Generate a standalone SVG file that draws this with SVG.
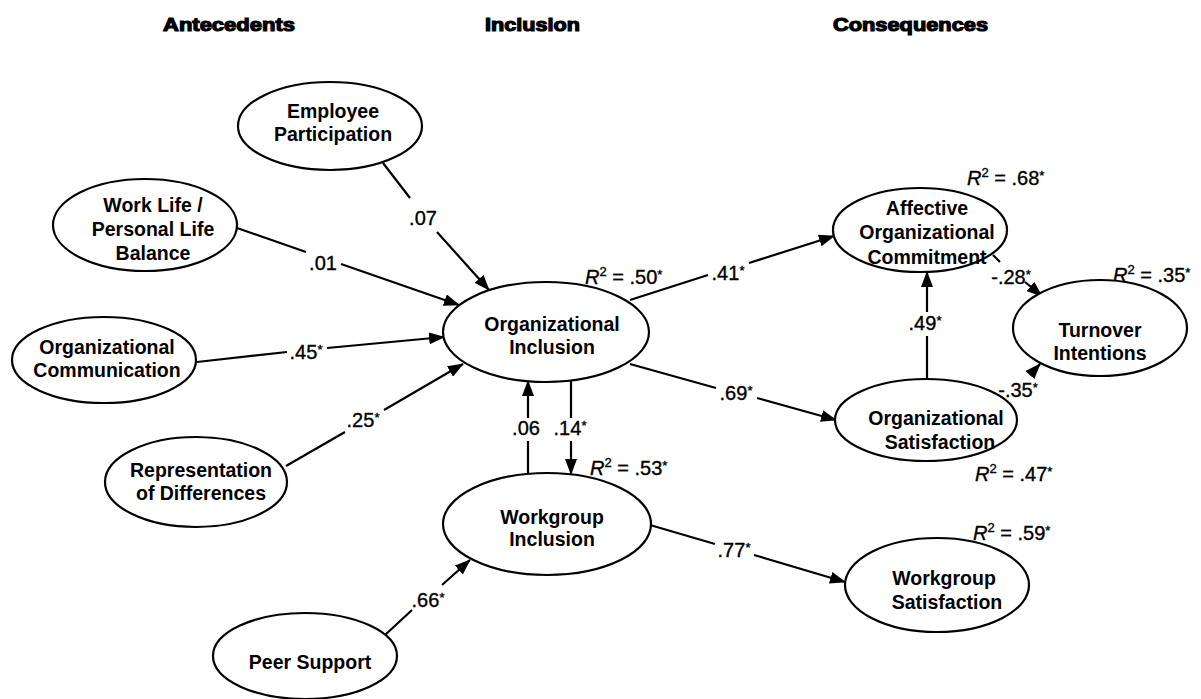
<svg xmlns="http://www.w3.org/2000/svg" width="1201" height="699" viewBox="0 0 1201 699">
<style>
.bg{fill:#fff}
.node ellipse{fill:#fff;stroke:#000;stroke-width:2.2}
.node text{font-family:"Liberation Sans",Arial,sans-serif;font-size:19.5px;font-weight:bold;text-anchor:middle;fill:#000}
.hdr{font-family:"Liberation Sans",Arial,sans-serif;font-size:19px;font-weight:bold;fill:#000;stroke:#000;stroke-width:1.2}
.edge path{fill:none;stroke:#000;stroke-width:2.2}
.lbl{font-family:"Liberation Sans",Arial,sans-serif;font-size:20px;text-anchor:middle;fill:#000;stroke:#000;stroke-width:0.35}
.r2{font-family:"Liberation Sans",Arial,sans-serif;font-size:20px;fill:#000;stroke:#000;stroke-width:0.35}
.sup{font-size:13px}
</style>
<defs>
<marker id="ah" markerUnits="userSpaceOnUse" markerWidth="16" markerHeight="12" refX="15" refY="6" orient="auto">
<path d="M0,0 L16,6 L0,12 Z" fill="#000"/>
</marker>
</defs>
<rect class="bg" x="0" y="0" width="1201" height="699"/>
<g id="headers">
<text class="hdr" x="163" y="31" textLength="132" lengthAdjust="spacingAndGlyphs">Antecedents</text>
<text class="hdr" x="485" y="31" textLength="95" lengthAdjust="spacingAndGlyphs">Inclusion</text>
<text class="hdr" x="833" y="31" textLength="155" lengthAdjust="spacingAndGlyphs">Consequences</text>
</g>
<g id="connectors" class="edge">
<path d="M383,163 L410,198 M437,232 L489,290" marker-end="url(#ah)"/>
<path d="M237,228 L306,252 M341,264 L459,305" marker-end="url(#ah)"/>
<path d="M197,362 L287,352 M327,348 L444,337" marker-end="url(#ah)"/>
<path d="M286,466 L345,432 M384,410 L463,364" marker-end="url(#ah)"/>
<path d="M385,635 L412,610 M442,585 L470,560" marker-end="url(#ah)"/>
<path d="M571,381 L571,418 M571,441 L571,474" marker-end="url(#ah)"/>
<path d="M528,474 L528,441 M528,418 L528,381" marker-end="url(#ah)"/>
<path d="M630,300 L708,275 M749,263 L834,236" marker-end="url(#ah)"/>
<path d="M630,364 L716,388 M757,398 L836,420" marker-end="url(#ah)"/>
<path d="M927,379 L927,336 M927,312 L927,272" marker-end="url(#ah)"/>
<path d="M993,255 L1000,262 M1025,282 L1042,296" marker-end="url(#ah)"/>
<path d="M1030,375 L1040,364" marker-end="url(#ah)"/>
<path d="M650,525 L715,544 M754,555 L845,582" marker-end="url(#ah)"/>
</g>
<g id="edge-labels">
<text class="lbl" x="423" y="225">.07</text>
<text class="lbl" x="323" y="270">.01</text>
<text class="lbl" x="306" y="359">.45<tspan class="sup" dy="-5">*</tspan></text>
<text class="lbl" x="363" y="427">.25<tspan class="sup" dy="-5">*</tspan></text>
<text class="lbl" x="428" y="607">.66<tspan class="sup" dy="-5">*</tspan></text>
<text class="lbl" x="526" y="435">.06</text>
<text class="lbl" x="570" y="435">.14<tspan class="sup" dy="-5">*</tspan></text>
<text class="lbl" x="728" y="280">.41<tspan class="sup" dy="-5">*</tspan></text>
<text class="lbl" x="736" y="400">.69<tspan class="sup" dy="-5">*</tspan></text>
<text class="lbl" x="925" y="330">.49<tspan class="sup" dy="-5">*</tspan></text>
<text class="lbl" x="1011" y="284">-.28<tspan class="sup" dy="-5">*</tspan></text>
<text class="lbl" x="1018" y="397">-.35<tspan class="sup" dy="-5">*</tspan></text>
<text class="lbl" x="734" y="557">.77<tspan class="sup" dy="-5">*</tspan></text>
</g>
<g id="r-squared">
<text class="r2" x="585" y="284"><tspan font-style="italic">R</tspan><tspan class="sup" dy="-8">2</tspan><tspan dy="8"> = .50</tspan><tspan class="sup" dy="-5">*</tspan></text>
<text class="r2" x="967" y="185"><tspan font-style="italic">R</tspan><tspan class="sup" dy="-8">2</tspan><tspan dy="8"> = .68</tspan><tspan class="sup" dy="-5">*</tspan></text>
<text class="r2" x="1113" y="282"><tspan font-style="italic">R</tspan><tspan class="sup" dy="-8">2</tspan><tspan dy="8"> = .35</tspan><tspan class="sup" dy="-5">*</tspan></text>
<text class="r2" x="975" y="481"><tspan font-style="italic">R</tspan><tspan class="sup" dy="-8">2</tspan><tspan dy="8"> = .47</tspan><tspan class="sup" dy="-5">*</tspan></text>
<text class="r2" x="590" y="475"><tspan font-style="italic">R</tspan><tspan class="sup" dy="-8">2</tspan><tspan dy="8"> = .53</tspan><tspan class="sup" dy="-5">*</tspan></text>
<text class="r2" x="973" y="540"><tspan font-style="italic">R</tspan><tspan class="sup" dy="-8">2</tspan><tspan dy="8"> = .59</tspan><tspan class="sup" dy="-5">*</tspan></text>
</g>
<g id="employee-participation" class="node">
<ellipse cx="330" cy="126" rx="92" ry="44"/>
<text x="333" y="118">Employee</text>
<text x="333" y="141">Participation</text>
</g>
<g id="work-life-balance" class="node">
<ellipse cx="145" cy="225" rx="92" ry="46"/>
<text x="153" y="212">Work Life /</text>
<text x="153" y="236">Personal Life</text>
<text x="153" y="260">Balance</text>
</g>
<g id="organizational-communication" class="node">
<ellipse cx="104" cy="360" rx="92" ry="43"/>
<text x="107" y="354">Organizational</text>
<text x="107" y="377">Communication</text>
</g>
<g id="representation-of-differences" class="node">
<ellipse cx="196" cy="482" rx="91" ry="45"/>
<text x="201" y="477">Representation</text>
<text x="201" y="500">of Differences</text>
</g>
<g id="peer-support" class="node">
<ellipse cx="305" cy="656" rx="92" ry="43"/>
<text x="310" y="669">Peer Support</text>
</g>
<g id="organizational-inclusion" class="node">
<ellipse cx="546" cy="332" rx="103" ry="50"/>
<text x="552" y="331">Organizational</text>
<text x="552" y="354">Inclusion</text>
</g>
<g id="workgroup-inclusion" class="node">
<ellipse cx="547" cy="524" rx="104" ry="51"/>
<text x="552" y="524">Workgroup</text>
<text x="552" y="546">Inclusion</text>
</g>
<g id="affective-organizational-commitment" class="node">
<ellipse cx="920" cy="230" rx="87" ry="42"/>
<text x="927" y="215">Affective</text>
<text x="927" y="239">Organizational</text>
<text x="927" y="264">Commitment</text>
</g>
<g id="turnover-intentions" class="node">
<ellipse cx="1100" cy="328" rx="87" ry="48"/>
<text x="1100" y="337">Turnover</text>
<text x="1100" y="360">Intentions</text>
</g>
<g id="organizational-satisfaction" class="node">
<ellipse cx="926" cy="420" rx="91" ry="41"/>
<text x="936" y="425">Organizational</text>
<text x="940" y="449">Satisfaction</text>
</g>
<g id="workgroup-satisfaction" class="node">
<ellipse cx="937" cy="585" rx="92" ry="47"/>
<text x="944" y="585">Workgroup</text>
<text x="947" y="609">Satisfaction</text>
</g>
</svg>
